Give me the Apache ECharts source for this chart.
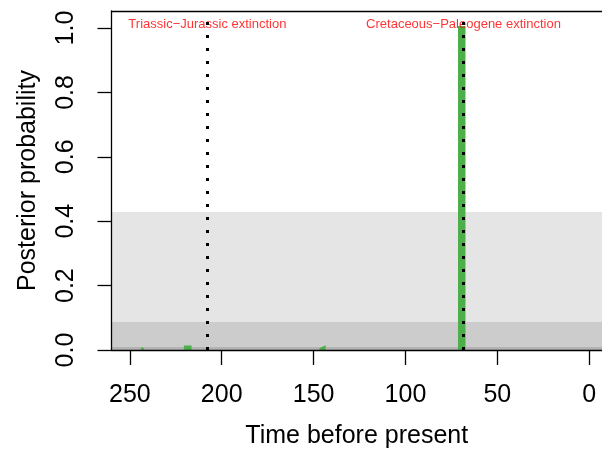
<!DOCTYPE html>
<html>
<head>
<meta charset="utf-8">
<script src="https://cdn.jsdelivr.net/npm/echarts@6/dist/echarts.min.js"></script>
<style>
  html, body { margin: 0; padding: 0; background: #fff; }
  #chart { width: 602px; height: 459px; }
</style>
</head>
<body>
<div id="chart"></div>
<script>
// posterior probability of a rate shift through time (null = gap, nothing drawn)
const times = [243.5, 243.5, 242.5, 242.5, null, 219.5, 219.5, 217.5, 217.5, null, 146.5, 146.5, 144.5, 144.5, null, 70.3, 70.3, 68.4, 68.4];
const probs = [0, 0.004, 0.004, 0, null, 0, 0.008, 0.008, 0, null, 0, 0.005, 0.005, 0, null, 0, 1, 1, 0];

// grey background bands (tops)
const bandTops = [0.429, 0.087, 0.009];
const bandColors = ["#E5E5E5", "#CCCCCC", "#B3B3B3"];

// extinction events
const eventNames = ["Triassic\u2212Jurassic extinction", "Cretaceous\u2212Paleogene extinction"];
const eventTimes = [207.8, 68.4];

const xTicks = [250, 200, 150, 100, 50, 0];
const yTicks = [0, 0.2, 0.4, 0.6, 0.8, 1.0];

const font = "'Liberation Sans', Arial, Helvetica, sans-serif";
const chart = echarts.init(document.getElementById("chart"));

const blackLine = { color: "#000", width: 1.3 };

chart.setOption({
    animation: false,
    grid: {
        left: 111.5,
        right: 0,
        top: 11,
        bottom: 109,
    },
    xAxis: [
        {
            type: "value",
            inverse: true,
            min: -7,
            max: 260,
            z: 5,
            name: "Time before present",
            nameLocation: "middle",
            nameGap: 74,
            nameTextStyle: { fontFamily: font, fontSize: 25, color: "#000" },
            splitLine: { show: false },
            axisLine: { show: true, onZero: false, lineStyle: blackLine },
            axisTick: { show: true, length: 15, customValues: xTicks, lineStyle: blackLine },
            axisLabel: { customValues: xTicks, margin: 33, fontFamily: font, fontSize: 25, color: "#000" },
        },
        {
            // top edge of the box
            type: "value",
            position: "top",
            inverse: true,
            min: -7,
            max: 260,
            z: 5,
            splitLine: { show: false },
            axisLine: { show: true, onZero: false, lineStyle: blackLine },
            axisTick: { show: false },
            axisLabel: { show: false },
        },
    ],
    yAxis: {
        type: "value",
        min: 0,
        max: 1.053,
        z: 5,
        name: "Posterior probability",
        nameLocation: "middle",
        nameRotate: 90,
        nameGap: 71,
        nameTextStyle: { fontFamily: font, fontSize: 25, color: "#000" },
        splitLine: { show: false },
        axisLine: { show: true, onZero: false, lineStyle: blackLine },
        axisTick: { show: true, length: 14, customValues: yTicks, lineStyle: blackLine },
        axisLabel: { customValues: yTicks, rotate: 90, margin: 33, fontFamily: font, fontSize: 25, color: "#000",
            formatter: (v) => v.toFixed(1) },
    },
    graphic: [
        // hide the part of the thick line that R clips below the box
        { type: "rect", z: 3, shape: { x: 112, y: 351, width: 500, height: 4 }, style: { fill: "#fff" } },
    ],
    series: [
        {
            type: "line",
            data: [],
            z: 1,
            markArea: {
                silent: true,
                data: bandTops.map((t, i) => [
                    { yAxis: 0, itemStyle: { color: bandColors[i] } },
                    { yAxis: t },
                ]),
            },
        },
        {
            type: "line",
            z: 2,
            data: times.map((t, i) => (t === null ? [null, null] : [t, probs[i]])),
            connectNulls: false,
            showSymbol: false,
            lineStyle: { color: "#4DAF4A", width: 4, join: "miter" },
            markLine: {
                silent: true,
                symbol: "none",
                label: { show: false },
                lineStyle: { color: "#000", width: 3, type: [3, 10], cap: "butt" },
                data: eventTimes.map((t) => ({ xAxis: t })),
            },
        },
        {
            type: "scatter",
            z: 4,
            symbolSize: 1,
            itemStyle: { color: "transparent" },
            data: eventTimes.map((t, i) => ({ value: [t, 1.01], name: eventNames[i] })),
            label: {
                show: true,
                position: "inside",
                formatter: (p) => p.name,
                fontFamily: font,
                fontSize: 13,
                color: "#FF0000",
            },
        },
    ],
});
</script>
</body>
</html>
